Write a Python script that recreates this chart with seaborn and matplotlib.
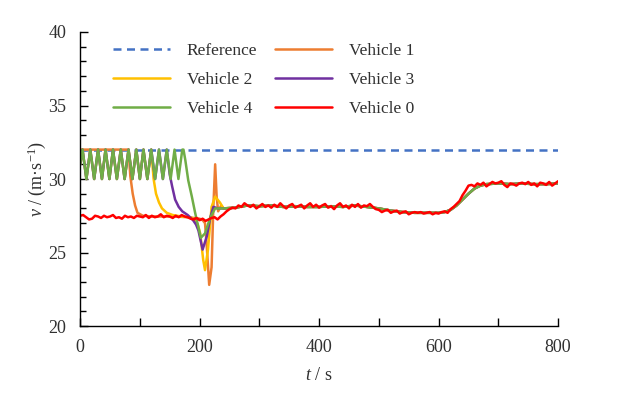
import numpy as np
import pandas as pd
import matplotlib
matplotlib.use("Agg")
import matplotlib.pyplot as plt
import seaborn as sns

# ---------------- data ----------------
ref_t = [0, 800]
ref_v = [32, 32]

# common speed oscillation (turning points) of the platoon before joining
osc_t = [0, 4, 10.5, 17, 23.5, 30, 36.5, 42.5, 49, 55, 61.5, 68, 74.5, 81, 87.5,
         94, 100, 106, 112.5, 119, 125.5, 132, 138.5, 145, 151.5, 158, 164.5, 171]
osc_v = [31.0, 32, 30, 32, 30, 32, 30, 32, 30, 32, 30, 32, 30, 32, 30,
         32, 30, 32, 30, 32, 30, 32, 30, 32, 30, 32, 30, 32]

# shared smooth trajectory of the followers after the transient
late_t = [240, 260, 280, 300, 320, 340, 360, 380, 400, 420, 440, 460, 480, 500,
          520, 540, 560, 580, 600, 610, 620, 630, 640, 650, 660, 670, 680, 700,
          720, 740, 760, 780, 800]
late_v = [28.0, 28.05, 28.2, 28.15, 28.2, 28.1, 28.15, 28.1, 28.1, 28.15, 28.1,
          28.2, 28.1, 28.0, 27.85, 27.75, 27.7, 27.7, 27.7, 27.75, 27.9, 28.2,
          28.6, 29.0, 29.35, 29.55, 29.65, 29.7, 29.65, 29.7, 29.65, 29.65, 29.7]

v1_t = [0, 81, 84, 88, 92, 96, 105, 120, 140, 160, 180, 200, 205,
        209, 212, 216, 220, 223, 226, 228.5, 231, 236]
v1_v = [32, 32, 30.2, 29.0, 28.2, 27.7, 27.5, 27.45, 27.45, 27.45, 27.4, 27.3, 27.2,
        27.0, 25.4, 22.8, 24.0, 28.1, 31.0, 28.8, 27.8, 28.2]

v2_osc_end = 119
v2_t = [123, 127, 132, 137, 145, 155, 170, 185, 192.5, 197, 201, 206, 209,
        214, 220, 226, 234]
v2_v = [30.0, 29.0, 28.4, 28.0, 27.7, 27.55, 27.45, 27.4, 27.2, 26.9, 26.3, 24.5,
        23.8, 25.2, 28.1, 28.8, 28.4]

v3_osc_end = 145
v3_t = [150, 154, 159, 165, 171, 180, 189, 194, 198, 205, 212, 218, 223, 231]
v3_v = [30.3, 29.5, 28.6, 28.1, 27.8, 27.55, 27.2, 26.9, 26.5, 25.2, 26.1, 27.4,
        28.1, 28.0]

v4_osc_end = 171
v4_t = [173, 176, 181, 187, 192.5, 198, 202, 209, 218, 226, 233]
v4_v = [32, 31.3, 29.9, 28.8, 27.7, 26.7, 26.0, 26.3, 27.4, 28.0, 28.0]

# leader (Vehicle 0), every 5 s
v0_t = list(range(0, 805, 5))
v0_v = [27.5, 27.55, 27.4, 27.25, 27.3, 27.5, 27.45, 27.35, 27.5, 27.4,
        27.45, 27.55, 27.35, 27.4, 27.3, 27.5, 27.4, 27.45, 27.35, 27.5,
        27.45, 27.4, 27.55, 27.35, 27.5, 27.4, 27.45, 27.6, 27.4, 27.5,
        27.45, 27.35, 27.5, 27.4, 27.55, 27.45, 27.4, 27.3, 27.25, 27.35,
        27.2,
        27.3, 27.15, 27.25, 27.35, 27.4, 27.25, 27.45, 27.6,
        27.8, 27.95, 28.05, 28.0, 28.2, 28.1, 28.35, 28.2, 28.1, 28.25, 28.0, 28.15,
        28.3, 28.1, 28.2, 28.05, 28.25, 28.1, 28.35, 28.15, 28.0, 28.2,
        28.3, 28.05, 28.15, 28.25, 28.0, 28.2, 28.35, 28.1, 28.25, 28.05,
        28.2, 28.3, 28.05, 28.15, 27.95, 28.2, 28.35, 28.1, 28.2, 28.0,
        28.25, 28.1, 28.3, 28.05, 28.2, 28.15, 28.3, 28.1, 27.95, 27.9,
        27.75, 27.85, 27.9, 27.7, 27.8, 27.85, 27.65, 27.75, 27.8, 27.6,
        27.7, 27.75, 27.7, 27.75, 27.65, 27.7, 27.75, 27.6, 27.7, 27.65,
        27.75, 27.8, 27.7, 27.95, 28.1, 28.3, 28.5, 28.9, 29.2, 29.55,
        29.6, 29.5, 29.7, 29.6, 29.75, 29.5, 29.65, 29.8, 29.7, 29.75,
        29.85, 29.6, 29.45, 29.7, 29.65, 29.55, 29.7, 29.75, 29.65, 29.8,
        29.6, 29.7, 29.5, 29.75, 29.7, 29.6, 29.8, 29.55, 29.7, 29.85]
assert len(v0_t) == len(v0_v)

names = ["Reference", "Vehicle 1", "Vehicle 2", "Vehicle 3", "Vehicle 4", "Vehicle 0"]
colors = ["#4472C4", "#ED7D31", "#FFC000", "#7030A0", "#70AD47", "#FF0000"]


def osc_until(t_end):
    n = osc_t.index(t_end) + 1
    return osc_t[:n], osc_v[:n]


series = {}
series["Reference"] = (ref_t, ref_v)
series["Vehicle 1"] = (v1_t + late_t, v1_v + late_v)
ot, ov = osc_until(v2_osc_end)
series["Vehicle 2"] = (ot + v2_t + late_t, ov + v2_v + late_v)
ot, ov = osc_until(v3_osc_end)
series["Vehicle 3"] = (ot + v3_t + late_t, ov + v3_v + late_v)
ot, ov = osc_until(v4_osc_end)
series["Vehicle 4"] = (ot + v4_t + late_t, ov + v4_v + late_v)
series["Vehicle 0"] = (v0_t, v0_v)

rows = []
for n in names:
    t, v = series[n]
    for i, (a, b) in enumerate(zip(t, v)):
        rows.append({"series": n, "t": a, "v": b, "order": i})
df = pd.DataFrame(rows)

# ---------------- style ----------------
sns.set_style("ticks")
plt.rcParams["font.family"] = ["Liberation Serif", "DejaVu Serif"]
plt.rcParams["mathtext.fontset"] = "custom"
plt.rcParams["mathtext.rm"] = "Liberation Serif"
plt.rcParams["mathtext.it"] = "Liberation Serif:italic"

fig = plt.figure(figsize=(6.41, 3.97), dpi=100)
ax = fig.add_axes([0.125, 0.1788, 0.7457, 0.7406])

palette = dict(zip(names, colors))
dashes = {n: "" for n in names}
dashes["Reference"] = (3.2, 2.2)

sns.lineplot(data=df, x="t", y="v", hue="series", style="series",
             hue_order=names, style_order=names, palette=palette, dashes=dashes,
             sort=False, estimator=None, linewidth=1.8, ax=ax, legend=True)

ax.set_xlim(0, 800)
ax.set_ylim(20, 40)
ax.set_xticks([0, 200, 400, 600, 800])
ax.set_xticks([100, 300, 500, 700], minor=True)
ax.set_yticks([20, 25, 30, 35, 40])
ax.set_yticks([v for v in range(21, 40) if v % 5 != 0], minor=True)
txtc = "#303030"
ax.tick_params(axis="both", which="major", direction="in", length=6, width=1,
               labelsize=13, labelcolor=txtc, color="black")
ax.tick_params(axis="x", which="major", pad=9)
ax.tick_params(axis="y", which="major", pad=10)
ax.tick_params(axis="y", which="minor", direction="in", length=4.5, width=1, color="black")
ax.tick_params(axis="x", which="minor", direction="in", length=6, width=1, color="black")
for s in ["top", "right"]:
    ax.spines[s].set_visible(False)
for s in ["left", "bottom"]:
    ax.spines[s].set_color("black")
    ax.spines[s].set_linewidth(1)

ax.set_xlabel(r"$\mathit{t}$ / s", fontsize=13, color=txtc, labelpad=8)
ax.set_ylabel(r"$\mathit{v}$ / (m·s$^{-1}$)", fontsize=13, color=txtc, labelpad=0)

handles, labels = ax.get_legend_handles_labels()
hmap = dict(zip(labels, handles))
order = ["Reference", "Vehicle 2", "Vehicle 4", "Vehicle 1", "Vehicle 3", "Vehicle 0"]
leg = ax.legend([hmap[n] for n in order], order, ncol=2, frameon=False,
                loc="upper left", bbox_to_anchor=(0.069, 0.962),
                borderaxespad=0, borderpad=0, fontsize=12.5,
                handlelength=3.3, handletextpad=0.95, columnspacing=1.0,
                labelspacing=0.72)
for t in leg.get_texts():
    t.set_color(txtc)

fig.savefig("out.png", dpi=100)
